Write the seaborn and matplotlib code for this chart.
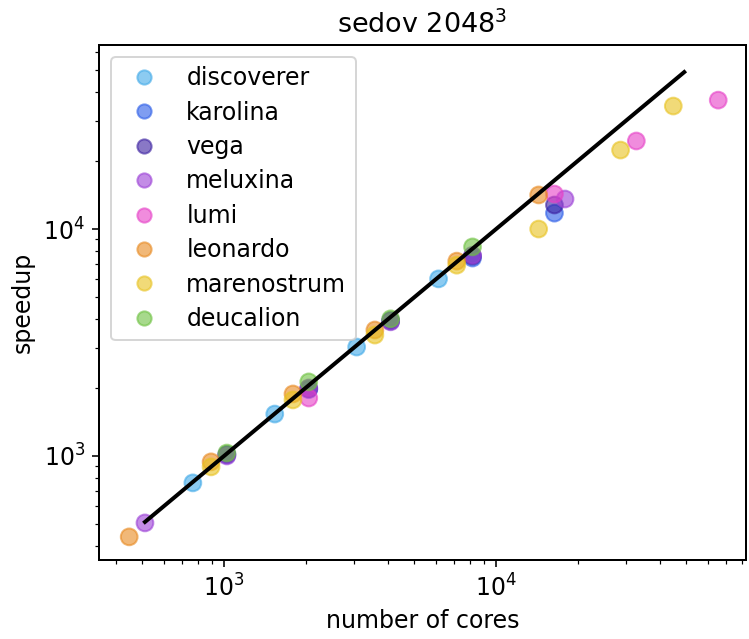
import numpy as np
import pandas as pd
import matplotlib
matplotlib.use("Agg")
import matplotlib.pyplot as plt
import seaborn as sns

# ---- data ----
machines = ["discoverer", "karolina", "vega", "meluxina", "lumi",
            "leonardo", "marenostrum", "deucalion"]
colors = ["#3fa9e8", "#2a5ce8", "#3a1fa0", "#9b3fd6", "#e63fc7",
          "#e8891f", "#e8c21f", "#6cc13f"]

discoverer_cores = [768, 1536, 3072, 6144]
discoverer_speedup = [761, 1530, 3020, 6030]
karolina_cores = [1024, 2048, 4096, 8192, 16384]
karolina_speedup = [1010, 1960, 3930, 7450, 11750]
vega_cores = [1024, 2048, 4096, 8192, 16384]
vega_speedup = [1015, 1980, 3950, 7600, 12760]
meluxina_cores = [512, 1024, 2048, 4096, 8192, 17920]
meluxina_speedup = [507, 1000, 1995, 3900, 7670, 13560]
lumi_cores = [2048, 16384, 32768, 65536]
lumi_speedup = [1800, 14260, 24430, 36980]
leonardo_cores = [448, 896, 1792, 3584, 7168, 14336]
leonardo_speedup = [440, 942, 1876, 3590, 7220, 14130]
marenostrum_cores = [896, 1792, 3584, 7168, 14336, 28672, 44800]
marenostrum_speedup = [895, 1766, 3410, 6930, 10000, 22280, 34830]
deucalion_cores = [1024, 2048, 4096, 8192]
deucalion_speedup = [1030, 2120, 4020, 8340]

ideal_cores = [512, 49152]
ideal_speedup = [512, 49152]

series = {
    "discoverer": (discoverer_cores, discoverer_speedup),
    "karolina": (karolina_cores, karolina_speedup),
    "vega": (vega_cores, vega_speedup),
    "meluxina": (meluxina_cores, meluxina_speedup),
    "lumi": (lumi_cores, lumi_speedup),
    "leonardo": (leonardo_cores, leonardo_speedup),
    "marenostrum": (marenostrum_cores, marenostrum_speedup),
    "deucalion": (deucalion_cores, deucalion_speedup),
}
rows = []
for m in machines:
    c, s = series[m]
    for ci, si in zip(c, s):
        rows.append({"cores": ci, "speedup": si, "machine": m})
df = pd.DataFrame(rows)
ideal = pd.DataFrame({"cores": ideal_cores, "speedup": ideal_speedup})

plt.rcParams["font.family"] = ["DejaVu Sans"]
plt.rcParams["font.size"] = 11.8
plt.rcParams["axes.linewidth"] = 1.0

fig = plt.figure(figsize=(749 / 144, 639 / 144), dpi=144)
ax = fig.add_axes([99 / 749, 1 - 560 / 639, (746 - 99) / 749, (560 - 45) / 639])

sns.scatterplot(data=df, x="cores", y="speedup", hue="machine",
                hue_order=machines, palette=dict(zip(machines, colors)),
                alpha=0.6, s=70, edgecolor="face", linewidth=1, ax=ax)
sns.lineplot(data=ideal, x="cores", y="speedup", color="black",
             linewidth=2, legend=False, ax=ax)

ax.set_xscale("log")
ax.set_yscale("log")
ax.set_xlim(347, 82900)
ax.set_ylim(348, 64700)
ax.set_xlabel("number of cores")
ax.set_ylabel("speedup")
ax.set_title(r"sedov 2048$^3$", fontsize=13.5)
sns.move_legend(ax, "upper left", title=None, labelspacing=0.44,
                markerscale=0.85)

fig.savefig("out.png", dpi=144)
